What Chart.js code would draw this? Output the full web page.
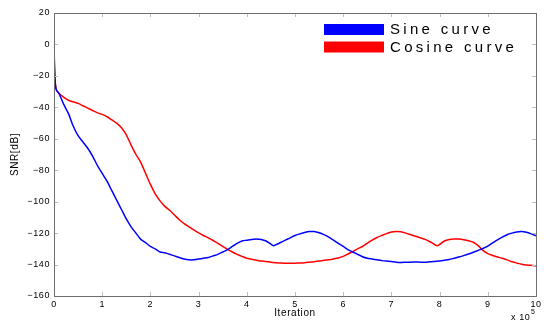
<!DOCTYPE html>
<html>
<head>
<meta charset="utf-8">
<script src="https://cdn.jsdelivr.net/npm/chart.js@4/dist/chart.umd.min.js"></script>
<style>
html,body{margin:0;padding:0;background:#fff;}
#wrap{width:547px;height:321px;position:relative;}
</style>
</head>
<body>
<div id="wrap"><canvas id="c" width="547" height="321"></canvas></div>
<script>
const seriesLabels = ["Sine curve", "Cosine curve"];
const xTicks = [0,1,2,3,4,5,6,7,8,9,10];
const yTicks = [20,0,-20,-40,-60,-80,-100,-120,-140,-160];

const sineX = [0,0.01,0.03,0.05,0.1,0.2,0.3,0.4,0.5,0.6,0.7,0.8,0.9,1.0,1.1,1.2,1.3,1.4,1.5,1.6,1.7,1.8,1.9,2.0,2.1,2.2,2.3,2.4,2.5,2.6,2.7,2.8,2.9,3.0,3.1,3.2,3.3,3.4,3.5,3.6,3.7,3.8,3.9,4.0,4.1,4.2,4.3,4.4,4.5,4.55,4.6,4.7,4.8,4.9,5.0,5.1,5.2,5.3,5.4,5.5,5.6,5.7,5.8,5.9,6.0,6.1,6.2,6.3,6.4,6.5,6.6,6.7,6.8,6.9,7.0,7.1,7.2,7.3,7.4,7.5,7.6,7.7,7.8,7.9,8.0,8.1,8.2,8.3,8.4,8.5,8.6,8.7,8.8,8.9,9.0,9.1,9.2,9.3,9.4,9.5,9.6,9.7,9.8,9.9,10.0];
const sineY = [-2,-15,-26,-29,-31,-38,-44,-52,-58,-62,-66,-71,-77,-82,-87,-93,-99,-105,-111,-116,-120,-124,-126,-128.5,-130,-132,-132.5,-133.5,-134.5,-135.5,-136.5,-137,-137,-136.5,-136,-135.5,-134.5,-133.5,-132,-130.5,-128.5,-126.5,-125,-124.5,-124,-123.8,-124,-125,-127,-128,-127.5,-126,-124.5,-123,-121.5,-120.5,-119.6,-119,-119,-119.8,-121,-122.5,-124.5,-126.5,-128.5,-130.5,-132,-133.5,-135,-136,-136.5,-137,-137.5,-137.8,-138,-138.5,-138.7,-138.5,-138.5,-138.3,-138.5,-138.5,-138.2,-138,-137.8,-137.3,-136.8,-136,-135.2,-134.3,-133.3,-132.2,-131,-129.8,-128.3,-126.2,-124.3,-122.5,-121,-120,-119.3,-119,-119.5,-120.5,-121.7];

const cosX = [0,0.01,0.02,0.05,0.1,0.2,0.3,0.4,0.5,0.6,0.7,0.8,0.9,1.0,1.1,1.2,1.3,1.4,1.5,1.6,1.7,1.8,1.9,2.0,2.1,2.2,2.3,2.4,2.5,2.6,2.7,2.8,2.9,3.0,3.1,3.2,3.3,3.4,3.5,3.6,3.7,3.8,3.9,4.0,4.1,4.2,4.3,4.4,4.5,4.6,4.7,4.8,4.9,5.0,5.1,5.2,5.3,5.4,5.5,5.6,5.7,5.8,5.9,6.0,6.1,6.2,6.3,6.4,6.5,6.6,6.7,6.8,6.9,7.0,7.1,7.2,7.3,7.4,7.5,7.6,7.7,7.8,7.9,7.95,8.0,8.1,8.2,8.3,8.4,8.5,8.6,8.7,8.8,8.9,9.0,9.1,9.2,9.3,9.4,9.5,9.6,9.7,9.8,9.9,10.0];
const cosY = [-2,-12,-22,-29,-31,-33.5,-35.5,-36.5,-37.5,-39,-40.5,-42,-43.5,-44.5,-46,-48,-50,-53,-57.5,-64,-70,-75,-82,-89,-95,-99.5,-103,-105.5,-108.5,-111.5,-114,-116,-118,-119.8,-121.5,-123,-124.7,-126.5,-128.5,-130.3,-132,-133.5,-134.8,-136,-136.6,-137.2,-137.8,-138,-138.5,-138.8,-139,-139.2,-139.2,-139.1,-139,-138.8,-138.5,-138.2,-137.8,-137.3,-136.9,-136.4,-135.8,-134.8,-133.3,-131.7,-130,-128.5,-126.5,-124.5,-122.8,-121.5,-120.3,-119.3,-119,-119.2,-120,-121,-122,-123,-124,-125.5,-127.3,-128,-127.2,-125,-124,-123.7,-123.8,-124.2,-124.8,-125.8,-128,-131,-133,-134.2,-135.2,-136,-137,-138.2,-139,-139.8,-140.3,-140.5,-140.9];

const seriesColors = ["#0000ff", "#ff0000"];

function pts(xs, ys){ return xs.map((x,i)=>({x:x, y:ys[i]})); }

const FONT = "'Liberation Sans', Arial, sans-serif";

const spacingPlugin = {
  id: 'spacingPlugin',
  beforeDraw(chart){ try { chart.ctx.letterSpacing = '0.6px'; } catch(e){} }
};

const boxPlugin = {
  id: 'boxPlugin',
  afterDatasetsDraw(chart){
    const ctx = chart.ctx, a = chart.chartArea;
    const xs = chart.scales.x, ys = chart.scales.y;
    ctx.save();
    ctx.strokeStyle = '#c0c0c0';
    ctx.lineWidth = 1;
    const tl = 4;
    xs.ticks.forEach(t=>{
      const px = Math.round(xs.getPixelForValue(t.value)) + 0.5;
      ctx.beginPath();
      ctx.moveTo(px, a.bottom); ctx.lineTo(px, a.bottom - tl);
      ctx.moveTo(px, a.top); ctx.lineTo(px, a.top + tl);
      ctx.stroke();
    });
    ys.ticks.forEach(t=>{
      const py = Math.round(ys.getPixelForValue(t.value)) + 0.5;
      ctx.beginPath();
      ctx.moveTo(a.left, py); ctx.lineTo(a.left + tl, py);
      ctx.moveTo(a.right, py); ctx.lineTo(a.right - tl, py);
      ctx.stroke();
    });
    ctx.strokeStyle = '#6e6e6e';
    ctx.strokeRect(Math.round(a.left)+0.5, Math.round(a.top)+0.5, Math.round(a.right-a.left), Math.round(a.bottom-a.top));
    // legend
    ctx.font = "15px " + FONT;
    ctx.textBaseline = 'middle';
    ctx.textAlign = 'left';
    try { ctx.letterSpacing = '3.3px'; } catch(e){}
    chart.data.datasets.forEach((ds,i)=>{
      const y0 = 24 + i*17.5;
      ctx.fillStyle = ds.borderColor;
      ctx.fillRect(324, y0, 60, 11);
      ctx.fillStyle = '#000';
      ctx.fillText(ds.label, 390, y0 + 6);
    });
    try { ctx.letterSpacing = '0.6px'; } catch(e){}
    ctx.font = "9px " + FONT;
    ctx.fillStyle = '#000';
    ctx.textBaseline = 'alphabetic';
    ctx.fillText('x 10', 511, 320);
    ctx.font = "7px " + FONT;
    ctx.fillText('5', 531, 314);
    ctx.restore();
  }
};

new Chart(document.getElementById('c'), {
  type: 'line',
  data: {
    datasets: [
      { label: seriesLabels[0], data: pts(sineX, sineY), borderColor: seriesColors[0], backgroundColor: seriesColors[0], borderWidth: 1.5, pointRadius: 0, tension: 0.25, fill: false },
      { label: seriesLabels[1], data: pts(cosX, cosY), borderColor: seriesColors[1], backgroundColor: seriesColors[1], borderWidth: 1.5, pointRadius: 0, tension: 0.25, fill: false }
    ]
  },
  options: {
    responsive: false,
    animation: false,
    layout: { padding: { top: 13, right: 11, bottom: 0, left: 0 } },
    plugins: { legend: { display: false }, tooltip: { enabled: false } },
    scales: {
      x: {
        type: 'linear', min: 0, max: 10,
        afterBuildTicks(s){ s.ticks = xTicks.map(v=>({value:v})); },
        afterFit(s){ s.height = 25; },
        grid: { display: false, drawTicks: false, tickLength: 0 },
        border: { display: false },
        ticks: { color: '#000', font: { family: FONT, size: 9 }, padding: 3, maxRotation: 0, autoSkip: false },
        title: { display: true, text: 'Iteration', color: '#000', font: { family: FONT, size: 10 }, padding: { top: 0, bottom: 2 } }
      },
      y: {
        type: 'linear', min: -160, max: 20,
        afterBuildTicks(s){ s.ticks = yTicks.map(v=>({value:v})); },
        afterFit(s){ s.width = 54; },
        grid: { display: false, drawTicks: false, tickLength: 0 },
        border: { display: false },
        ticks: { color: '#000', font: { family: FONT, size: 9 }, padding: 4, autoSkip: false,
          callback: (v)=> String(v).replace('-', '\u2212') },
        title: { display: true, text: 'SNR[dB]', color: '#000', font: { family: FONT, size: 10 }, padding: { top: 9, bottom: 0 } }
      }
    }
  },
  plugins: [spacingPlugin, boxPlugin]
});
</script>
</body>
</html>
